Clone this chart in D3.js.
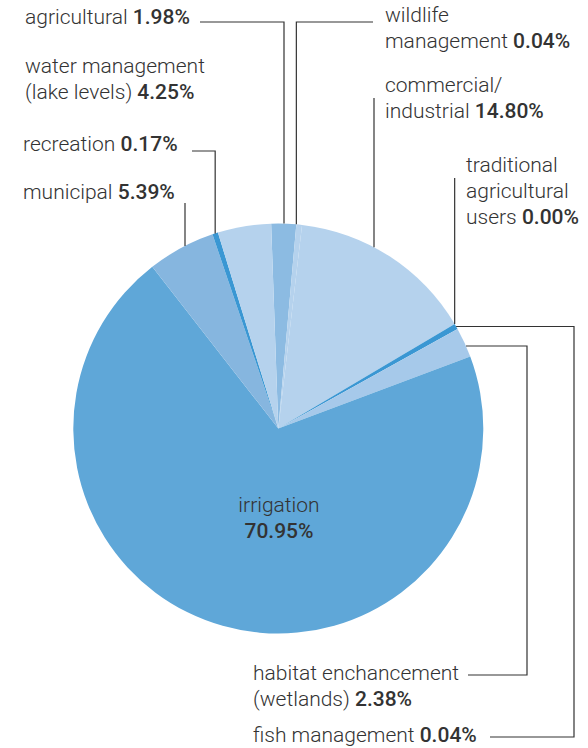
<!DOCTYPE html>
<html>
<head>
<meta charset="utf-8">
<script src="https://cdn.jsdelivr.net/npm/d3@7"></script>
<style>
  html, body { margin: 0; padding: 0; background: #fff; }
  svg text { font-family: Roboto, "Liberation Sans", Arial, sans-serif; font-weight: 300; fill: #333; }
  svg text .v { font-weight: 500; }
</style>
</head>
<body>
<svg id="chart" width="588" height="748"></svg>
<script>
// ---- data (clockwise from 12 o'clock) ----
const categories = ["agricultural", "wildlife management", "commercial/industrial",
  "traditional agricultural users", "fish management", "habitat enchancement (wetlands)",
  "irrigation", "municipal", "recreation", "water management (lake levels)"];
const shares = [1.98, 0.04, 14.80, 0.00, 0.04, 2.38, 70.95, 5.39, 0.17, 4.25];
const valueLabels = ["1.98%", "0.04%", "14.80%", "0.00%", "0.04%", "2.38%", "70.95%", "5.39%", "0.17%", "4.25%"];
const sliceColors = ["#8cbbe2", "#b5d2ed", "#b5d2ed", "#3a97d3", "#3a97d3", "#a6c9ea",
  "#5fa7d8", "#86b6df", "#3a97d3", "#b5d2ed"];

const MIN_VISIBLE = 0.45; // tiny non-zero slices are drawn at a minimum visible share

const svg = d3.select("#chart");
const cx = 278.3, cy = 428.5, R = 205;
const deg = Math.PI / 180;

const data = categories.map((c, i) => ({ cat: c, value: shares[i], label: valueLabels[i], color: sliceColors[i] }));
const pie = d3.pie().sort(null)
  .value(d => d.value > 0 ? Math.max(d.value, MIN_VISIBLE) : 0)
  .startAngle(-2 * deg).endAngle(358 * deg);
const arcs = pie(data);
const arc = d3.arc().innerRadius(0).outerRadius(R);

const g = svg.append("g").attr("transform", `translate(${cx},${cy})`);
g.selectAll("path").data(arcs).enter().append("path")
  .attr("d", arc)
  .attr("fill", d => d.data.color);

// helpers: point on the rim
const rim = a => [cx + R * Math.sin(a), cy - R * Math.cos(a)];
const rimYatX = x => cy - Math.sqrt(R * R - (x - cx) * (x - cx));
const rimXatY = y => cx + Math.sqrt(R * R - (y - cy) * (y - cy));
const byCat = name => arcs.find(a => a.data.cat === name);

// ---- labels ----
function label(x, y, lines, anchor) {
  const t = svg.append("text").attr("x", x).attr("y", y).attr("font-size", 21)
    .attr("text-anchor", anchor || "start");
  lines.forEach((ln, i) => {
    const ts = t.append("tspan").attr("x", x).attr("dy", i === 0 ? 0 : 26);
    ts.append("tspan").text(ln[0]);
    if (ln[1]) ts.append("tspan").attr("class", "v").text(ln[1]);
  });
}
const L = i => valueLabels[i];
label(25, 24, [["agricultural ", L(0)]]);
label(25, 73, [["water management"], ["(lake levels) ", L(9)]]);
label(23, 151, [["recreation ", L(8)]]);
label(23, 199, [["municipal ", L(7)]]);
label(385, 22, [["wildlife"], ["management ", L(1)]]);
label(385, 92, [["commercial/"], ["industrial ", L(2)]]);
label(466, 172, [["traditional"], ["agricultural"], ["users ", L(3)]]);
label(253, 680, [["habitat enchancement"], ["(wetlands) ", L(5)]]);
label(253, 742, [["fish management ", L(4)]]);
label(279, 512, [["irrigation"], ["", L(6)]], "middle");

// ---- leader lines ----
const lineGen = d3.line();
function leader(pts) {
  svg.append("path").attr("d", lineGen(pts)).attr("fill", "none")
    .attr("stroke", "#333").attr("stroke-width", 1.2);
}
const agX = 284;
leader([[200, 22], [agX, 22], [agX, rimYatX(agX)]]);
const wl = rim(byCat("wildlife management").startAngle);
leader([[373, 22], [wl[0], 22], [wl[0], wl[1]]]);
const rc = rim((byCat("recreation").startAngle + byCat("recreation").endAngle) / 2);
leader([[192, 151], [rc[0], 151], [rc[0], rc[1]]]);
const muX = 185;
leader([[muX, 203], [muX, rimYatX(muX)]]);
const coX = 374;
leader([[coX, 98], [coX, rimYatX(coX)]]);
const tr = rim(byCat("traditional agricultural users").startAngle);
leader([[tr[0], 178], [tr[0], tr[1]]]);
const fi = rim((byCat("fish management").startAngle + byCat("fish management").endAngle) / 2);
leader([[fi[0], fi[1]], [574, fi[1]], [574, 737], [490, 737]]);
const hy = 346;
leader([[rimXatY(hy), hy], [527, hy], [527, 675], [468, 675]]);
</script>
</body>
</html>
